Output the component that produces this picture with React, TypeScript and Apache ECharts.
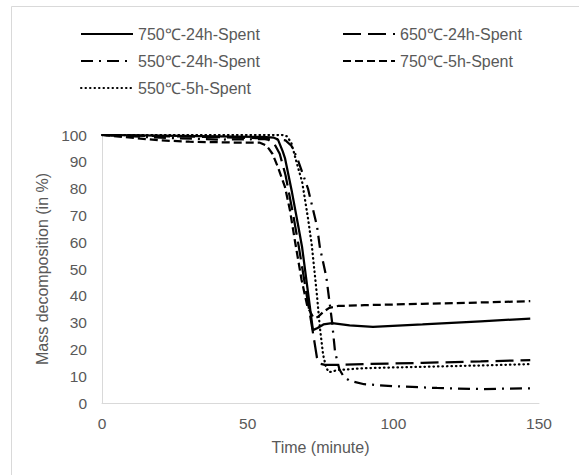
import React, { useEffect, useRef } from "react";
import * as echarts from "echarts";

const seriesNames = [
  "750℃-24h-Spent",
  "650℃-24h-Spent",
  "550℃-24h-Spent",
  "750℃-5h-Spent",
  "550℃-5h-Spent",
];

const s750_24: [number, number][] = [
  [0, 100], [20, 99.8], [40, 99.5], [55, 99.3], [59, 99], [60.4, 98.3], [62, 94], [62.8, 91.4],
  [65.2, 78.7], [67.3, 66.4], [68.7, 58], [70.5, 43], [72.4, 27.2], [74, 28], [76, 29.3],
  [79, 29.8], [85, 29], [93, 28.4], [110, 29.3], [130, 30.5], [147, 31.5],
];

const s650_24: [number, number][] = [
  [0, 100], [20, 99.6], [40, 99.2], [55, 98.8], [57, 98.3], [59, 97], [61, 93], [63, 85],
  [65.5, 71], [67.6, 58], [70, 42], [72, 29], [73.1, 21.6], [73.8, 16.8], [75, 14.6],
  [76.5, 14.2], [80, 14.2], [90, 14.5], [110, 15], [130, 15.5], [147, 16],
];

const s550_24: [number, number][] = [
  [0, 100], [20, 99], [40, 98.3], [60, 98.5], [63, 98], [65, 96], [67, 91.4], [70.7, 80],
  [73.8, 66], [74.8, 58], [77, 47], [79, 30], [80, 19], [81.5, 12.5], [83, 9.8], [85, 8.3],
  [90, 7], [100, 6.3], [115, 5.6], [130, 5.2], [147, 5.5],
];

const s750_5: [number, number][] = [
  [0, 100], [10, 99], [20, 98], [30, 97.5], [45, 97.2], [54, 97.2], [56.5, 96], [58.5, 93],
  [60.4, 88], [62.8, 80.6], [64.5, 72], [66.3, 60], [68.5, 46], [70.5, 36], [72.5, 32],
  [74, 32], [76, 34], [78, 35.5], [81, 36.2], [90, 36.5], [110, 37], [130, 37.5], [147, 38],
];

const s550_5: [number, number][] = [
  [0, 100], [62, 100], [63.5, 99.5], [65, 97], [67, 89], [68.7, 82.5], [70.7, 69], [72, 59],
  [73.8, 40], [74.8, 28], [75.9, 18], [77, 13], [78, 11.5], [81, 12.3], [90, 13], [110, 13.5],
  [130, 14], [147, 14.5],
];

const xTicks = { min: 0, max: 150, interval: 50 };
const yTicks = { min: 0, max: 100, interval: 10 };

const dashTypes: any[] = ["solid", [18, 7], [12, 6, 2, 6], [8, 4], [0.5, 4]];
const dataSets = [s750_24, s650_24, s550_24, s750_5, s550_5];

export default function App() {
  const ref = useRef<HTMLDivElement>(null);
  useEffect(() => {
    if (!ref.current) return;
    const chart = echarts.init(ref.current, undefined, { renderer: "svg" });
    const font = "'Liberation Sans', Arial, sans-serif";
    const textColor = "#595959";
    const legendCommon = {
      orient: "vertical" as const,
      itemWidth: 52,
      itemHeight: 14,
      itemGap: 11,
      itemStyle: { opacity: 0 },
      textStyle: { color: textColor, fontSize: 16, fontFamily: font },
      padding: 0,
    };
    chart.setOption({
      animation: false,
      backgroundColor: "#ffffff",
      textStyle: { fontFamily: font },
      graphic: [
        {
          type: "rect",
          shape: { x: 11.5, y: 6.5, width: 700, height: 700 },
          style: { fill: "none", stroke: "#d9d9d9", lineWidth: 1 },
          silent: true,
        },
      ],
      legend: [
        { ...legendCommon, left: 80, top: 26, data: [seriesNames[0], seriesNames[2], seriesNames[4]] },
        { ...legendCommon, left: 342, top: 26, data: [seriesNames[1], seriesNames[3]] },
      ],
      grid: { left: 102, right: 40, top: 135, bottom: 72 },
      xAxis: {
        type: "value",
        ...xTicks,
        name: "Time (minute)",
        nameLocation: "middle",
        nameGap: 36,
        nameTextStyle: { color: textColor, fontSize: 16, fontFamily: font },
        axisLine: { show: true, lineStyle: { color: "#d9d9d9", width: 1 } },
        axisTick: { show: false },
        splitLine: { show: false },
        axisLabel: { color: textColor, fontSize: 15.5, fontFamily: font, margin: 12 },
      },
      yAxis: {
        type: "value",
        ...yTicks,
        name: "Mass decomposition (in %)",
        nameLocation: "middle",
        nameGap: 43,
        nameRotate: 90,
        nameTextStyle: { color: textColor, fontSize: 16, fontFamily: font },
        axisLine: { show: true, lineStyle: { color: "#d9d9d9", width: 1 } },
        axisTick: { show: false },
        splitLine: { show: false },
        axisLabel: { color: textColor, fontSize: 15.5, fontFamily: font, margin: 15 },
      },
      series: dataSets.map((d, i) => ({
        name: seriesNames[i],
        type: "line",
        data: d,
        symbol: "none",
        showSymbol: false,
        color: "#000000",
        lineStyle: {
          color: "#000000",
          width: 2.25,
          type: dashTypes[i],
          cap: i === 4 ? "round" : "butt",
        },
      })),
    });
    return () => chart.dispose();
  }, []);
  return (
    <div
      ref={ref}
      style={{ position: "fixed", left: 0, top: 0, width: 579, height: 475, background: "#fff" }}
    />
  );
}
